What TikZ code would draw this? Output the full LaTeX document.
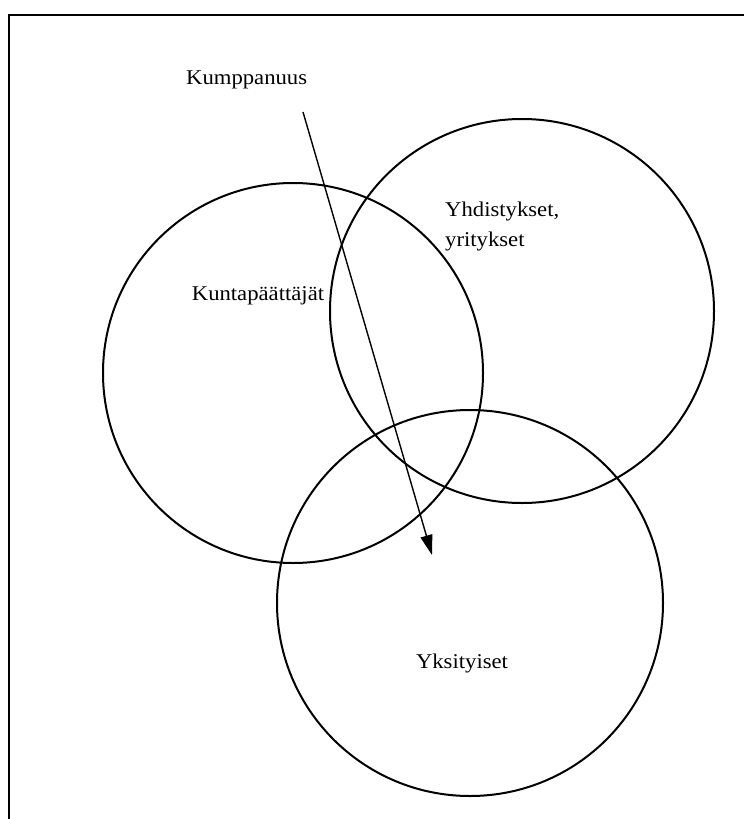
\documentclass[tikz,border=0pt]{standalone}
\usepackage{fontspec}
\setmainfont{Liberation Serif}[FakeStretch=1.08]
\usetikzlibrary{arrows.meta}
\begin{document}
\begin{tikzpicture}[x=1pt,y=-1pt,
  ring/.style={draw, circle, line width=2pt, inner sep=0pt},
  lbl/.style={inner sep=0pt, font=\fontsize{21}{30}\selectfont},
  frame/.style={line width=1.4pt}]
\useasboundingbox (0,0) rectangle (744,819);
\draw[frame] (9,819) -- (9,15) -- (744,15);
\node[ring, minimum size=380pt] (cA) at (293,373) {};
\node[ring, minimum size=384pt] (cB) at (522,311) {};
\node[ring, minimum size=386pt] (cC) at (470,603) {};
\node[lbl, anchor=west] (kump) at (186,80) {Kumppanuus};
\node[lbl, anchor=west, align=left] (yhd) at (445,226) {Yhdistykset,\\yritykset};
\node[lbl] (kunta) at (258,296) {Kuntapäättäjät};
\node[lbl] (yks) at (462,663) {Yksityiset};
\coordinate (aS) at (303,112);
\coordinate (aE) at (432,555);
\draw[line width=1.4pt, -{Triangle[length=20pt,width=12pt]}] (aS) -- (aE);
\end{tikzpicture}
\end{document}
